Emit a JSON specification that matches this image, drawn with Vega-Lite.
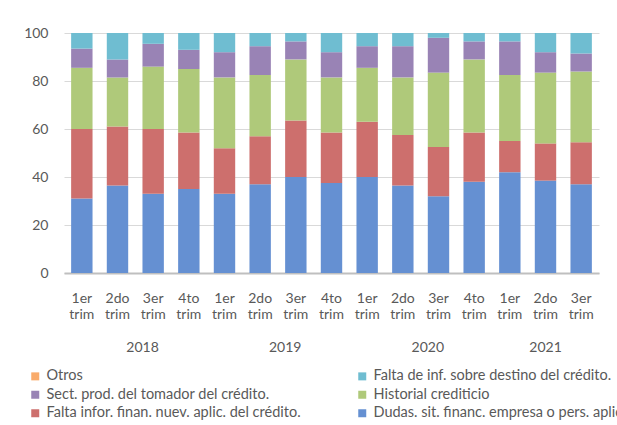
{
  "$schema": "https://vega.github.io/schema/vega-lite/v6.json",
  "width": 535,
  "height": 240,
  "autosize": "none",
  "padding": {"left": 64, "top": 33, "right": 18, "bottom": 152},
  "background": "white",
  "config": {
    "font": "Lato",
    "view": {"stroke": null},
    "axis": {"labelColor": "#595959", "labelFontSize": 14}
  },
  "data": {
    "values": [
      {"k": "2018-1", "f": 31, "e": 29, "d": 25.5, "c": 8, "b": 6.5, "a": 0},
      {"k": "2018-2", "f": 36.5, "e": 24.5, "d": 20.5, "c": 7.5, "b": 11, "a": 0},
      {"k": "2018-3", "f": 33, "e": 27, "d": 26, "c": 9.5, "b": 4.5, "a": 0},
      {"k": "2018-4", "f": 35, "e": 23.5, "d": 26.5, "c": 8, "b": 7, "a": 0},
      {"k": "2019-1", "f": 33, "e": 19, "d": 29.5, "c": 10.5, "b": 8, "a": 0},
      {"k": "2019-2", "f": 37, "e": 20, "d": 25.5, "c": 12, "b": 5.5, "a": 0},
      {"k": "2019-3", "f": 40, "e": 23.5, "d": 25.5, "c": 7.5, "b": 3.5, "a": 0},
      {"k": "2019-4", "f": 37.5, "e": 21, "d": 23, "c": 10.5, "b": 8, "a": 0},
      {"k": "2020-1", "f": 40, "e": 23, "d": 22.5, "c": 9, "b": 5.5, "a": 0},
      {"k": "2020-2", "f": 36.5, "e": 21, "d": 24, "c": 13, "b": 5.5, "a": 0},
      {"k": "2020-3", "f": 32, "e": 20.5, "d": 31, "c": 14.5, "b": 2, "a": 0},
      {"k": "2020-4", "f": 38, "e": 20.5, "d": 30.5, "c": 7.5, "b": 3.5, "a": 0},
      {"k": "2021-1", "f": 42, "e": 13, "d": 27.5, "c": 14, "b": 3.5, "a": 0},
      {"k": "2021-2", "f": 38.5, "e": 15.5, "d": 29.5, "c": 8.5, "b": 8, "a": 0},
      {"k": "2021-3", "f": 37, "e": 17.5, "d": 29.5, "c": 7.5, "b": 8.5, "a": 0}
    ]
  },
  "transform": [
    {"fold": ["f", "e", "d", "c", "b", "a"], "as": ["cat", "v"]},
    {
      "lookup": "cat",
      "from": {
        "data": {
          "values": [
            {"cat": "a", "name": "Otros"},
            {"cat": "b", "name": "Falta de inf. sobre destino del crédito."},
            {"cat": "c", "name": "Sect. prod. del tomador del crédito."},
            {"cat": "d", "name": "Historial crediticio"},
            {"cat": "e", "name": "Falta  infor. finan. nuev. aplic. del crédito."},
            {"cat": "f", "name": "Dudas.  sit. financ. empresa o pers. aplic."}
          ]
        },
        "key": "cat",
        "fields": ["name"]
      }
    }
  ],
  "mark": {"type": "bar"},
  "encoding": {
    "x": {
      "field": "k",
      "type": "ordinal",
      "title": null,
      "scale": {"paddingInner": 0.4, "paddingOuter": 0.2},
      "axis": {
        "labelAngle": 0,
        "labelExpr": "slice(datum.value,5) == '2' ? [['1er','2do','3er','4to'][toNumber(slice(datum.value,5))-1], 'trim', '\u2800', (datum.value == '2021-2' ? '' : '\u2800\u2800\u2800\u2800\u2800') + slice(datum.value,0,4)] : [['1er','2do','3er','4to'][toNumber(slice(datum.value,5))-1], 'trim']",
        "ticks": false,
        "domainColor": "#bfbfbf",
        "domainWidth": 2,
        "labelLineHeight": 16.5,
        "labelPadding": 18
      }
    },
    "y": {
      "field": "v",
      "type": "quantitative",
      "title": null,
      "stack": "zero",
      "scale": {"domain": [0, 100]},
      "axis": {
        "values": [0, 20, 40, 60, 80, 100],
        "domain": false,
        "ticks": false,
        "gridColor": "#d9d9d9",
        "labelPadding": 16
      }
    },
    "color": {
      "field": "name",
      "type": "nominal",
      "title": null,
      "scale": {
        "domain": [
          "Otros",
          "Sect. prod. del tomador del crédito.",
          "Falta  infor. finan. nuev. aplic. del crédito.",
          "Falta de inf. sobre destino del crédito.",
          "Historial crediticio",
          "Dudas.  sit. financ. empresa o pers. aplic."
        ],
        "range": ["#F9AB6B", "#9983B5", "#CD6F6D", "#6FBDD1", "#AFC97A", "#6590D2"]
      },
      "legend": {
        "orient": "none",
        "legendX": -36,
        "legendY": 336,
        "columns": 2,
        "columnPadding": 50,
        "rowPadding": 3.5,
        "symbolType": "square",
        "symbolSize": 64,
        "labelFontSize": 14.5,
        "labelColor": "#595959",
        "labelLimit": 400
      }
    },
    "order": {"field": "cat", "sort": "descending"}
  }
}
